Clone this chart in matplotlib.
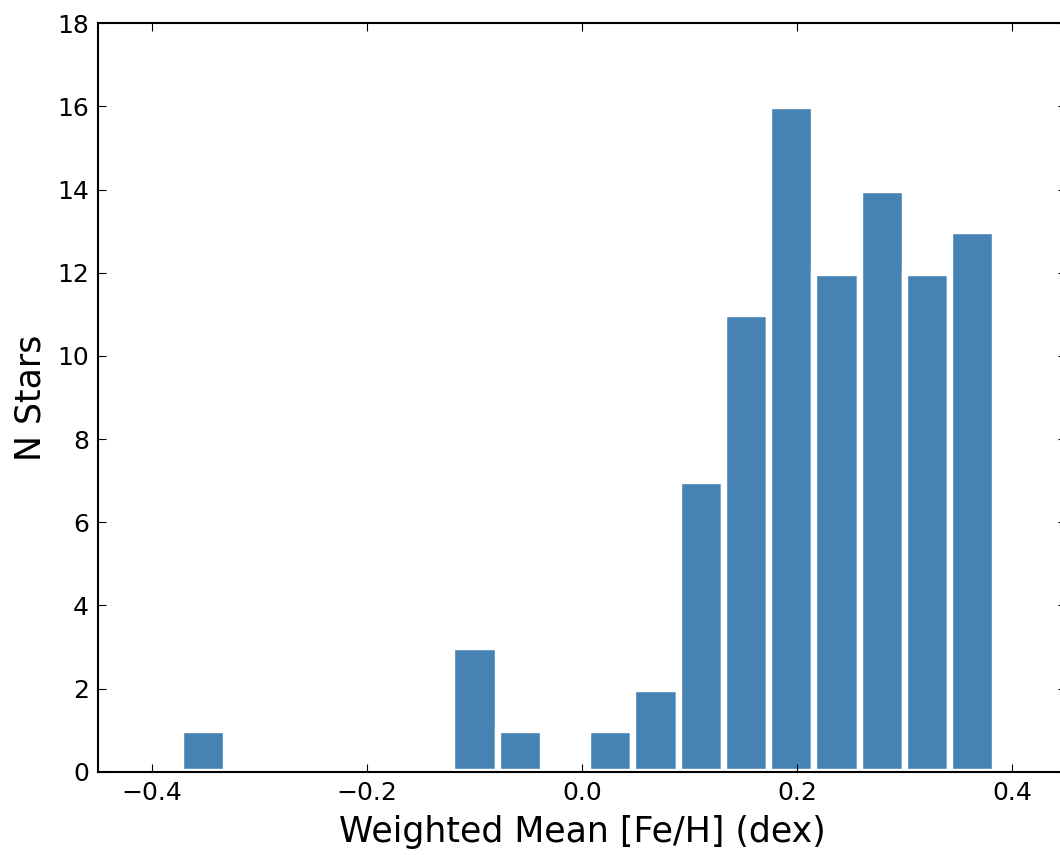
import numpy as np
import matplotlib
matplotlib.use("Agg")
import matplotlib.pyplot as plt

# Histogram of weighted mean metallicities
n_bins = 18
feh_min, feh_max = -0.3735, 0.384
counts = [1, 0, 0, 0, 0, 0, 3, 1, 0, 1, 2, 7, 11, 16, 12, 14, 12, 13]
x_ticks = [-0.4, -0.2, 0.0, 0.2, 0.4]
y_ticks = [0, 2, 4, 6, 8, 10, 12, 14, 16, 18]

edges = np.linspace(feh_min, feh_max, n_bins + 1)

fig = plt.figure(figsize=(10.6, 8.55), dpi=100)
ax = fig.add_axes([0.0929, 0.0974, 0.913, 0.8753])

ax.bar(edges[:-1], counts, width=np.diff(edges), align="edge",
       color="steelblue", edgecolor="white", linewidth=4.6)

ax.set_xlim(-0.45, 0.45)
ax.set_ylim(0, 18)
ax.set_xticks(x_ticks)
ax.set_yticks(y_ticks)
ax.set_xticklabels(["\u22120.4", "\u22120.2", "0.0", "0.2", "0.4"])

ax.tick_params(direction="in", length=6, width=0.8, labelsize=18, pad=7,
               top=True, right=True)
for sp in ax.spines.values():
    sp.set_linewidth(1.5)

ax.set_xlabel("Weighted Mean [Fe/H] (dex)", fontsize=25, labelpad=7)
ax.set_ylabel("N Stars", fontsize=25, labelpad=7)

fig.savefig("out.png", dpi=100)
